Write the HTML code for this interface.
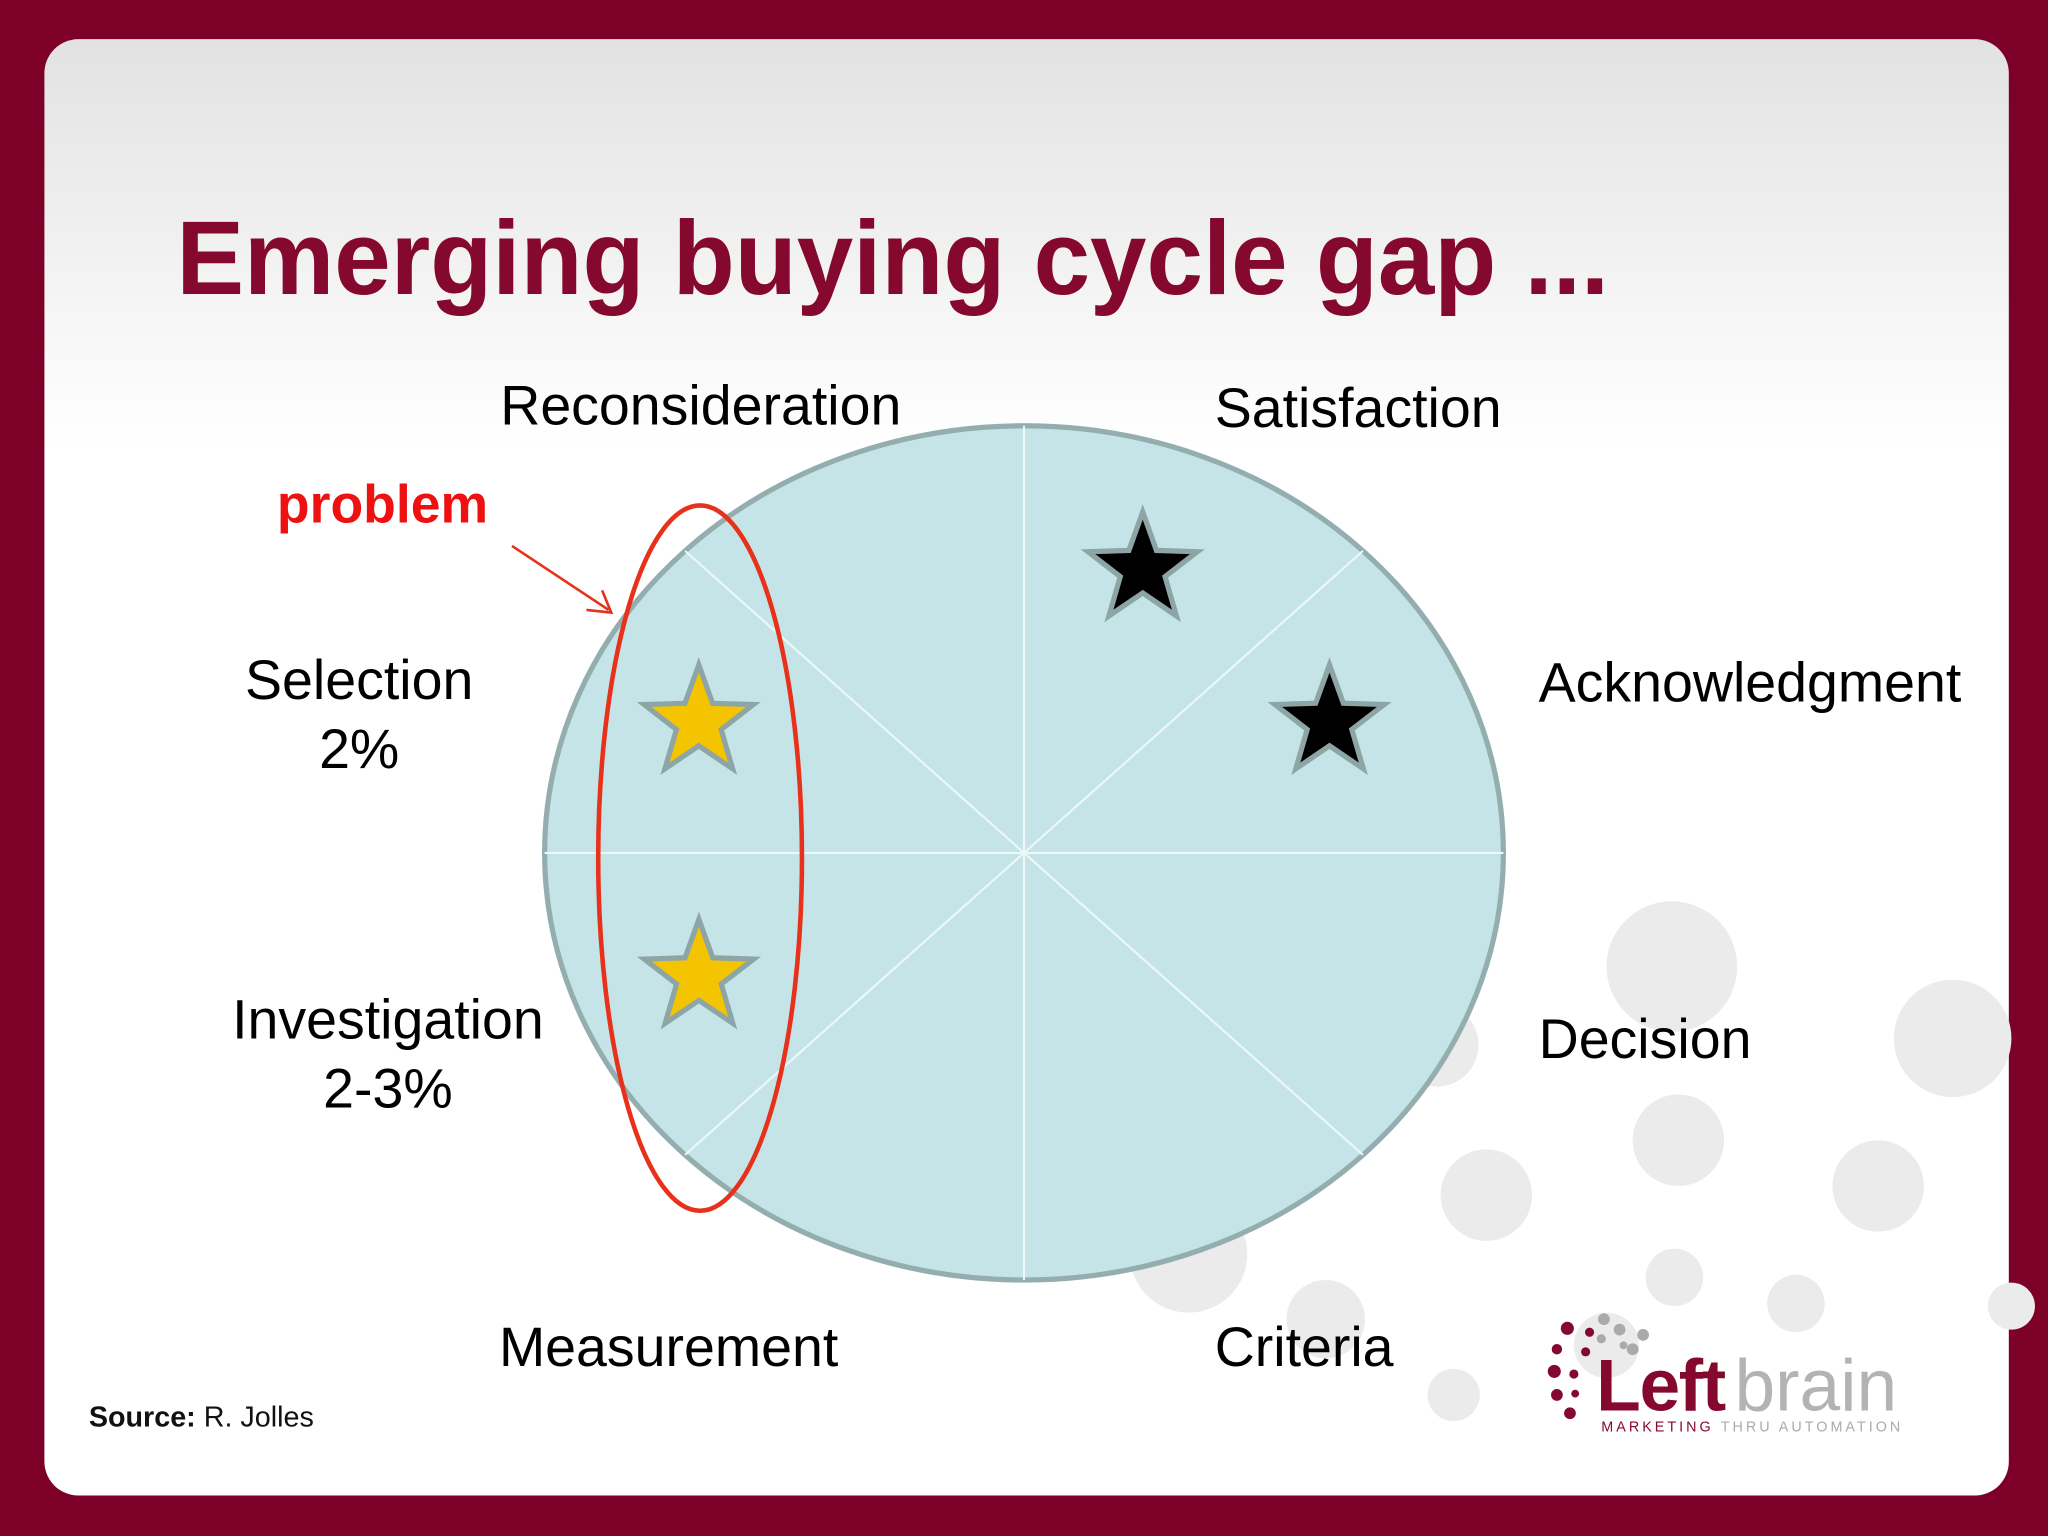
<!DOCTYPE html>
<html><head><meta charset="utf-8"><style>
html,body{margin:0;padding:0;background:#7d0028;}
svg{display:block;}
text{font-family:"Liberation Sans",Arial,sans-serif;}
</style></head><body>
<svg id="s" width="2048" height="1536" viewBox="0 0 1568 1176" xmlns="http://www.w3.org/2000/svg">
<defs>
<linearGradient id="bg" x1="0" y1="0" x2="0" y2="1">
<stop offset="0" stop-color="#e2e2e2"/><stop offset="0.28" stop-color="#ffffff"/><stop offset="1" stop-color="#ffffff"/>
</linearGradient>
</defs>
<rect x="0" y="0" width="1568" height="1176" fill="#7d0028"/>
<rect x="34" y="30" width="1504" height="1115" rx="26" fill="url(#bg)"/>
<g id="bubbles"></g>
<text x="135" y="225" font-size="80" font-weight="bold" fill="#85092f" textLength="1097" lengthAdjust="spacingAndGlyphs">Emerging buying cycle gap ...</text>
<g id="chart"></g>
<g>
<text x="68" y="1092" font-size="22" fill="#111"><tspan font-weight="bold">Source:</tspan> R. Jolles</text>
</g>
<g id="logo">
<text x="1222" y="1080" font-size="56" font-weight="bold" fill="#85092f" letter-spacing="-1">Left</text>
<text x="1328" y="1080" font-size="56" fill="#b3b3b3">brain</text>
<text x="1226" y="1096" font-size="11" letter-spacing="2.3" fill="#85092f">MARKETING <tspan fill="#aaa">THRU AUTOMATION</tspan></text>
</g>
</svg>
<script>
const NS='http://www.w3.org/2000/svg';
const segmentLabels=['Satisfaction','Acknowledgment','Decision','Criteria','Measurement','Investigation','Selection','Reconsideration'];
const starAngles=[-69.8,-26.3,204.9,157.5];   // degrees from east, screen coords
const starRadii=[0.717,0.711,0.748,0.734]; // fraction of ellipse radius
const starColors=['#000000','#000000','#f5c400','#f5c400'];
const cx=784,cy=653,rx=367,ry=327;
function mk(tag,attrs,parent){const e=document.createElementNS(NS,tag);for(const k in attrs)e.setAttribute(k,attrs[k]);parent.appendChild(e);return e;}
const chart=document.getElementById('chart');
const bub=document.getElementById('bubbles');
[[1280,740,50],[1495,795,45],[1285,873,35],[1438,908,35],[1138,915,35],[1282,978,22],[1375,998,22],[1100,800,32],[1113,1068,20],[1540,1000,18],[910,960,45],[1015,1010,30],[1230,1030,25]].forEach(b=>{
 const c=mk('circle',{cx:b[0],cy:b[1],r:b[2],fill:'#ebebeb'},bub);
 
 
});
const el=mk('ellipse',{cx:cx,cy:cy,rx:rx,ry:ry,fill:'#c5e4e7',stroke:'#94aeb0','stroke-width':4},chart);


for(let i=0;i<8;i++){
 const a=i*Math.PI/4;
 const ln=mk('line',{x1:cx,y1:cy,x2:cx+rx*Math.cos(a),y2:cy+ry*Math.sin(a),stroke:'#eef8f9','stroke-width':1.6},chart);
 
 
}
function starPts(x,y,R,r){let p=[];for(let i=0;i<10;i++){const a=-Math.PI/2+i*Math.PI/5;const rr=i%2?r:R;p.push((x+rr*Math.cos(a)).toFixed(1)+','+(y+rr*Math.sin(a)).toFixed(1));}return p.join(' ');}
starAngles.forEach((d,i)=>{
 const a=d*Math.PI/180;
 const x=cx+rx*starRadii[i]*Math.cos(a),y=cy+ry*starRadii[i]*Math.sin(a);
 const s=mk('polygon',{points:starPts(x,y+3,44,18),fill:starColors[i],stroke:'#8ea5a6','stroke-width':4,'stroke-linejoin':'miter'},chart);
 
 
});
const re=mk('ellipse',{cx:536,cy:657,rx:78,ry:270,fill:'none',stroke:'#e8311a','stroke-width':3.5},chart);


const ar=mk('line',{x1:392,y1:418,x2:466,y2:467,stroke:'#e8311a','stroke-width':2},chart);


const ah=mk('polyline',{points:'449,467 468,469 461,452',fill:'none',stroke:'#e8311a','stroke-width':2},chart);


const pt=mk('text',{x:212,y:400,'font-size':41,'font-weight':'bold',fill:'#ee1111'},chart);
pt.textContent='problem';


const labelPos={Satisfaction:[930,327,'start'],Acknowledgment:[1178,537,'start'],Decision:[1178,810,'start'],Criteria:[930,1046,'start'],Measurement:[382,1046,'start'],Investigation:[297,795,'middle'],Selection:[275,535,'middle'],Reconsideration:[383,325,'start']};
const subLabels={Investigation:'2-3%',Selection:'2%'};
segmentLabels.forEach(l=>{
 const p=labelPos[l];
 const t=mk('text',{x:p[0],y:p[1],'font-size':42.5,fill:'#000','text-anchor':p[2]},chart);
 t.textContent=l;
 
 
 if(subLabels[l]){
  const t2=mk('text',{x:p[0],y:p[1]+53,'font-size':42.5,fill:'#000','text-anchor':'middle'},chart);
  t2.textContent=subLabels[l];
  
  
 }
});
const logo=document.getElementById('logo');
[[1200,1017,'#85092f',5],[1192,1033,'#85092f',4],[1214,1035,'#85092f',3.5],[1190,1050,'#85092f',5],[1205,1052,'#85092f',3.5],[1192,1068,'#85092f',4.5],[1206,1067,'#85092f',3],[1202,1082,'#85092f',4.5],[1217,1020,'#85092f',3.5],[1228,1010,'#aaa',4.5],[1240,1018,'#aaa',4.5],[1250,1033,'#aaa',4.5],[1258,1022,'#aaa',4.5],[1226,1025,'#aaa',3.5],[1243,1030,'#aaa',3]].forEach(d=>{
 const c=mk('circle',{cx:d[0],cy:d[1],r:d[3],fill:d[2]},logo);
 
 
});
</script>
</body></html>
